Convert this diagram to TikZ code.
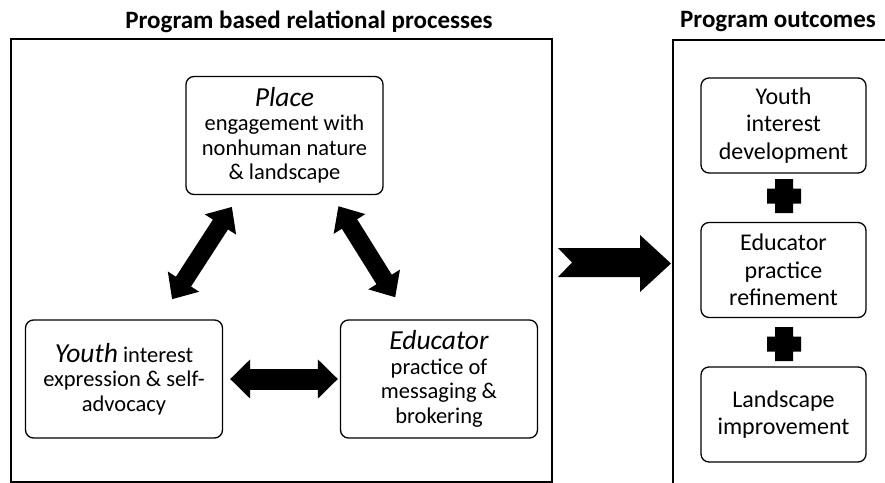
\documentclass[tikz,border=0pt]{standalone}
\usepackage{fontspec}
\setmainfont{Carlito}
\usetikzlibrary{arrows.meta}

\newcommand{\actor}[1]{{\fontsize{27.5}{29}\selectfont\itshape #1}}

\tikzset{
  panel/.style={draw, line width=2.6pt},
  heading/.style={font=\fontsize{25}{28}\selectfont\bfseries},
  procbox/.style={draw, rounded corners=8pt, line width=1.3pt, align=center,
    inner sep=0pt, minimum width=197pt, minimum height=118pt,
    font=\fontsize{22.5}{24.5}\selectfont},
  outbox/.style={draw, rounded corners=8pt, line width=1.3pt, align=center,
    inner sep=0pt, minimum width=165pt, minimum height=95pt,
    font=\fontsize{24}{27.5}\selectfont},
  dblarrow/.style={line width=18pt,
    {Triangle[length=21pt,width=36pt]}-{Triangle[length=21pt,width=36pt]}}
}

\begin{document}
\begin{tikzpicture}[x=1pt,y=-1pt]
  \clip (0,0) rectangle (885,482);
  \node[panel, minimum width=541pt, minimum height=443pt] (relational) at (281.5,260.5) {};
  \node[panel, minimum width=232pt, minimum height=460pt] (outcomes)   at (789,270) {};
  \node[heading] (reltitle) at (309,22) {Program based relational processes};
  \node[heading] (outtitle) at (778,22) {Program outcomes};
  \node[procbox] (place)    at (284.5,135.5) {\actor{Place}\\engagement with\\nonhuman nature\\\& landscape};
  \node[procbox] (youth)    at (124,379)     {\actor{Youth} interest\\expression \& self-\\advocacy};
  \node[procbox] (educator) at (439,379)     {\actor{Educator}\\practice of\\messaging \&\\brokering};
  \node[outbox]  (youthdev) at (783.5,125.5) {Youth\\interest\\development};
  \node[outbox]  (refine)   at (783.5,270)   {Educator\\practice\\refinement};
  \node[outbox]  (improve)  at (783.5,414.5) {Landscape\\improvement};
  \coordinate (plus1) at (784,196);
  \coordinate (plus2) at (784,344);
  \draw[dblarrow, shorten <=14pt, shorten >=24pt] ([xshift=-45pt]place.south) -- ([xshift=35pt]youth.north);
  \draw[dblarrow, shorten <=13pt, shorten >=26pt] ([xshift=47pt]place.south) -- ([xshift=-30pt]educator.north);
  \draw[dblarrow, line width=21pt, shorten <=7pt, shorten >=2pt,
    {Triangle[length=20pt,width=38pt]}-{Triangle[length=20pt,width=38pt]}] (youth.east) -- (educator.west);
  \fill (558,248) -- (640,248) -- (640,235) -- (671,263.5) -- (640,292) -- (640,277) -- (558,277) -- (572,262.5) -- cycle;
  \fill[shift={(plus1)}] (-9,-17) rectangle (9,17) (-17,-7.5) rectangle (17,7.5);
  \fill[shift={(plus2)}] (-9,-17) rectangle (9,17) (-17,-7.5) rectangle (17,7.5);
\end{tikzpicture}
\end{document}
